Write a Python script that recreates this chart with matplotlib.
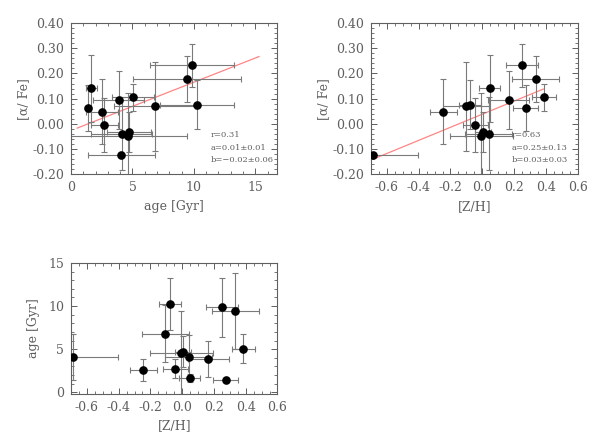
import matplotlib
matplotlib.use('Agg')
import matplotlib.pyplot as plt
from matplotlib.ticker import MultipleLocator, FormatStrFormatter

# ======================== Data ========================

age = [4.10, 2.55, 6.80, 10.27, 2.72, 4.60, 4.70, 4.13, 1.66, 3.87, 9.84, 1.42, 9.45, 5.05]
age_err = [2.7, 1.3, 3.3, 3.0, 1.1, 4.8, 1.8, 2.5, 0.45, 2.1, 3.4, 0.2, 4.4, 1.7]
zh = [-0.686, -0.245, -0.105, -0.075, -0.043, -0.005, 0.005, 0.040, 0.047,
      0.165, 0.252, 0.273, 0.335, 0.386]
zh_err = [0.28, 0.085, 0.145, 0.07, 0.08, 0.20, 0.05, 0.15, 0.065, 0.13, 0.10, 0.08, 0.147, 0.075]
afe = [-0.123, 0.049, 0.070, 0.076, -0.004, -0.049, -0.033, -0.039, 0.141,
       0.094, 0.232, 0.063, 0.178, 0.106]
afe_err = [0.0, 0.129, 0.177, 0.098, 0.108, 0.17, 0.08, 0.145, 0.134, 0.114, 0.086, 0.09, 0.093, 0.054]

# linear fits drawn in red
fit1_age = [0.5, 15.3]
fit1_afe = [-0.017, 0.267]
fit2_zh = [-0.687, 0.384]
fit2_afe = [-0.140, 0.138]

fit1_text = ['r=0.31', 'a=0.01\u00b10.01', 'b=\u22120.02\u00b10.06']
fit2_text = ['r=0.63', 'a=0.25\u00b10.13', 'b=0.03\u00b10.03']

# ======================== Style ========================

GRAY = '#5f5f5f'
BAR = '#7a7a7a'
plt.rcParams['font.family'] = ['DejaVu Serif']
plt.rcParams['font.size'] = 9


def style_axes(ax, xmin, ymin):
    for s in ax.spines.values():
        s.set_color(GRAY)
        s.set_linewidth(0.8)
    ax.xaxis.set_minor_locator(MultipleLocator(xmin))
    ax.yaxis.set_minor_locator(MultipleLocator(ymin))
    ax.tick_params(which='both', direction='in', top=True, right=True,
                   colors=GRAY, labelcolor=GRAY, labelsize=9)
    ax.tick_params(which='major', length=4.5, width=0.7, pad=5)
    ax.tick_params(which='minor', length=2, width=0.6)


def draw(ax, x, y, xerr, yerr):
    ax.errorbar(x, y, xerr=xerr, yerr=yerr, fmt='none', ecolor=BAR,
                elinewidth=0.8, capsize=2.2, capthick=0.8, zorder=2)
    ax.plot(x, y, 'o', color='black', markersize=5.2, zorder=3)


def fit_text(ax, lines, x):
    for yy, t in zip([0.259, 0.177, 0.097], lines):
        ax.text(x, yy, t, transform=ax.transAxes, fontsize=6, color=GRAY,
                va='center', ha='left')


fig = plt.figure(figsize=(5.98, 4.41), dpi=100)

# --- age vs [alpha/Fe] ---
ax1 = fig.add_axes([0.1187, 0.6048, 0.3453, 0.343])
draw(ax1, age, afe, age_err, afe_err)
ax1.plot(fit1_age, fit1_afe, color='#ff8585', linewidth=0.9, zorder=1)
ax1.set_xlim(0, 16.8)
ax1.set_ylim(-0.2, 0.4)
ax1.xaxis.set_major_locator(MultipleLocator(5))
ax1.yaxis.set_major_locator(MultipleLocator(0.1))
ax1.yaxis.set_major_formatter(FormatStrFormatter('%.2f'))
style_axes(ax1, 1, 0.02)
ax1.set_xlabel('age [Gyr]', color=GRAY, fontsize=9, labelpad=4)
ax1.set_ylabel('[\u03b1/ Fe]', color=GRAY, fontsize=9)
ax1.yaxis.set_label_coords(-0.199, 0.5)
fit_text(ax1, fit1_text, 0.677)

# --- [Z/H] vs [alpha/Fe] ---
ax2 = fig.add_axes([0.6204, 0.6048, 0.3456, 0.343])
draw(ax2, zh, afe, zh_err, afe_err)
ax2.plot(fit2_zh, fit2_afe, color='#ff8585', linewidth=0.9, zorder=1)
ax2.set_xlim(-0.7, 0.6)
ax2.set_ylim(-0.2, 0.4)
ax2.xaxis.set_major_locator(MultipleLocator(0.2))
ax2.yaxis.set_major_locator(MultipleLocator(0.1))
ax2.xaxis.set_major_formatter(FormatStrFormatter('%.1f'))
ax2.yaxis.set_major_formatter(FormatStrFormatter('%.2f'))
style_axes(ax2, 0.05, 0.02)
ax2.set_xlabel('[Z/H]', color=GRAY, fontsize=9, labelpad=4)
ax2.set_ylabel('[\u03b1/ Fe]', color=GRAY, fontsize=9)
ax2.yaxis.set_label_coords(-0.199, 0.5)
fit_text(ax2, fit2_text, 0.682)

# --- [Z/H] vs age ---
ax3 = fig.add_axes([0.1187, 0.1066, 0.3453, 0.297])
draw(ax3, zh, age, zh_err, age_err)
ax3.set_xlim(-0.7, 0.6)
ax3.set_ylim(-0.2, 15)
ax3.xaxis.set_major_locator(MultipleLocator(0.2))
ax3.yaxis.set_major_locator(MultipleLocator(5))
ax3.xaxis.set_major_formatter(FormatStrFormatter('%.1f'))
style_axes(ax3, 0.05, 1)
ax3.set_xlabel('[Z/H]', color=GRAY, fontsize=9, labelpad=4)
ax3.set_ylabel('age [Gyr]', color=GRAY, fontsize=9)
ax3.yaxis.set_label_coords(-0.15, 0.5)

fig.savefig('out.png', dpi=100)
